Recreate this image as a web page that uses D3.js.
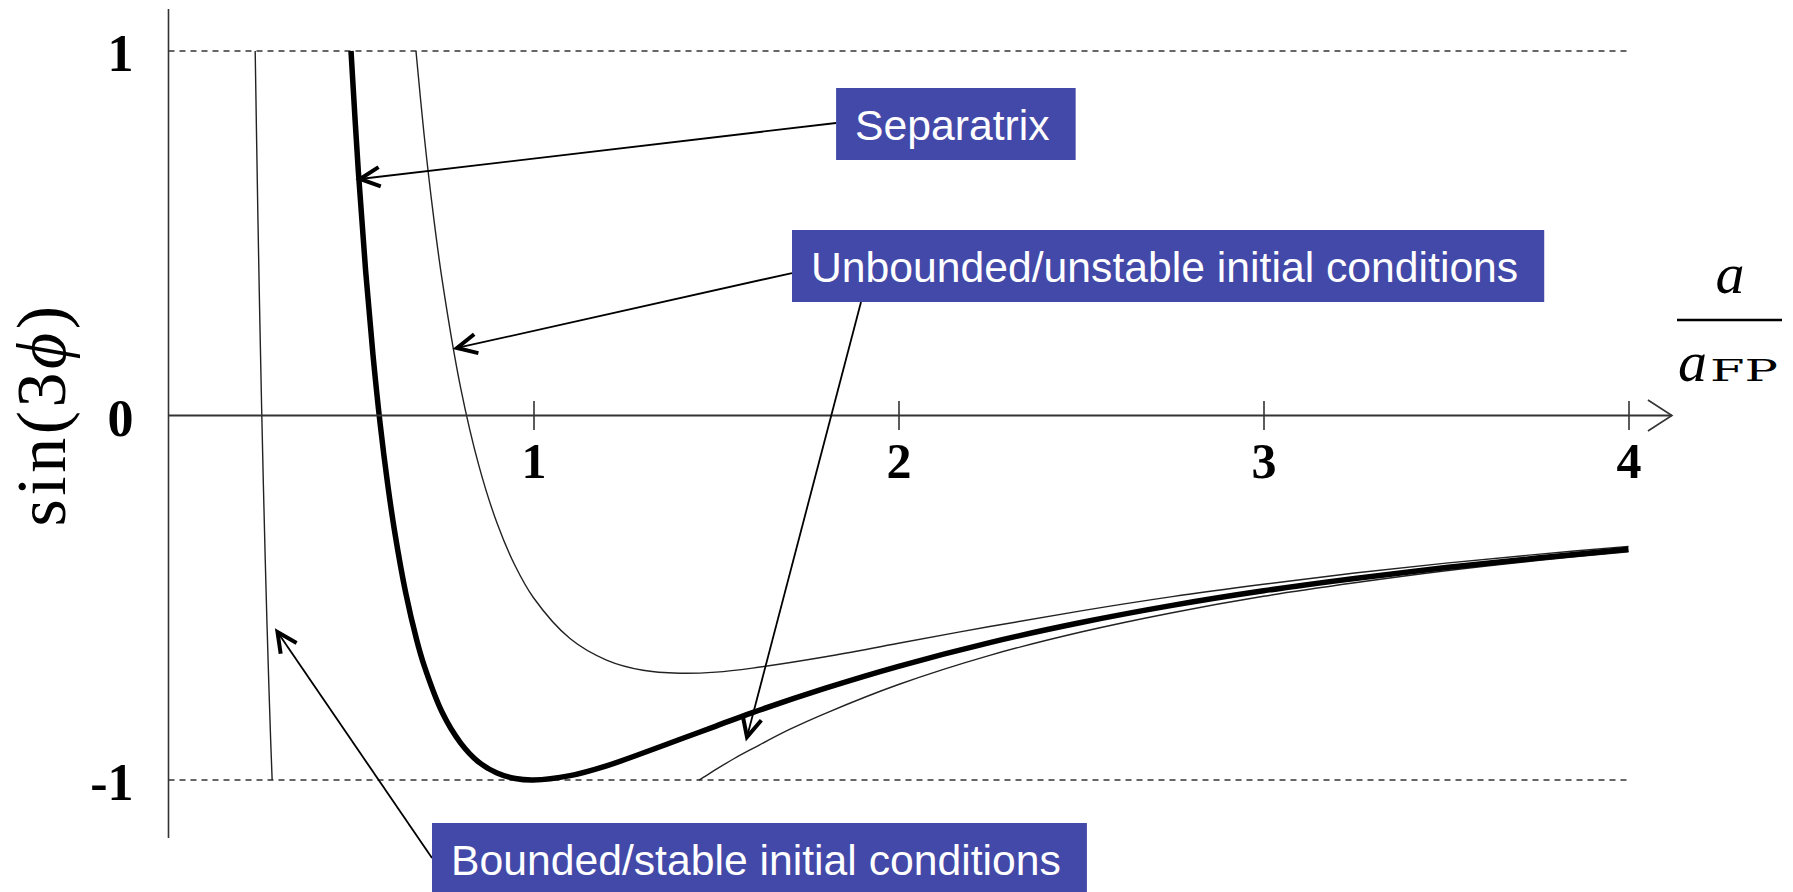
<!DOCTYPE html>
<html>
<head>
<meta charset="utf-8">
<script src="https://cdn.jsdelivr.net/npm/d3@7"></script>
<style>
  html, body { margin: 0; padding: 0; background: #fff; }
  svg { display: block; }
</style>
</head>
<body>
<svg id="chart" width="1793" height="892"></svg>
<script>
// Trajectories in the (a/a_FP, sin 3φ) plane
const separatrix = [
  [0.5, 1], [0.52, 0.671], [0.54, 0.398], [0.56, 0.169], [0.58, -0.024], [0.6, -0.185],
  [0.62, -0.321], [0.65, -0.487], [0.68, -0.616], [0.7, -0.685], [0.75, -0.815], [0.8, -0.898],
  [0.85, -0.951], [0.9, -0.981], [0.95, -0.996], [1, -1], [1.1, -0.988], [1.2, -0.961],
  [1.3, -0.926], [1.4, -0.889], [1.5, -0.852], [1.6, -0.815], [1.8, -0.748], [2, -0.688],
  [2.25, -0.623], [2.5, -0.568], [2.75, -0.521], [3, -0.481], [3.25, -0.447], [3.5, -0.417],
  [3.75, -0.391], [4, -0.367]
];
const unbounded = [
  [0.678, 1], [0.7, 0.773], [0.725, 0.555], [0.75, 0.370], [0.8, 0.078], [0.85, -0.136],
  [0.9, -0.295], [0.95, -0.413], [1, -0.5], [1.1, -0.612], [1.2, -0.671], [1.3, -0.699],
  [1.4, -0.707], [1.5, -0.704], [1.6, -0.693], [1.8, -0.662], [2, -0.625], [2.25, -0.579],
  [2.5, -0.536], [2.75, -0.497], [3, -0.463], [3.25, -0.432], [3.5, -0.405], [3.75, -0.381],
  [4, -0.359]
];
const boundedInner = [
  [0.2375, 1], [0.245, 0.541], [0.25, 0.272], [0.255, 0.028], [0.26, -0.193], [0.265, -0.394],
  [0.27, -0.577], [0.275, -0.742], [0.28, -0.893], [0.284, -1]
];
const boundedOuter = [
  [1.453, -1], [1.46, -0.996], [1.47, -0.990], [1.5, -0.971], [1.55, -0.941], [1.6, -0.914],
  [1.7, -0.862], [1.8, -0.817], [2, -0.738], [2.25, -0.658], [2.5, -0.594], [2.75, -0.541],
  [3, -0.496], [3.25, -0.459], [3.5, -0.426], [3.75, -0.398], [4, -0.374]
];

const xTicks = [1, 2, 3, 4];
const yTicks = [-1, 0, 1];
const yTickLabels = ["-1", "0", "1"];
const bounds = [-1, 1];            // dashed limits of sin(3φ)
const xDomain = [0, 4];
const yDomain = [-1, 1];
const xAxisEnd = 4.119;            // arrow tip of the horizontal axis
const yAxisExtent = [-1.159, 1.115];

// Callout boxes and their arrows, anchored in data coordinates
const annotations = [
  { text: "Separatrix", box: [1.829, 0.8985],
    arrows: [{ from: [1.829, 0.8025], to: [0.5247, 0.6488] }] },
  { text: "Unbounded/unstable initial conditions", box: [1.7082, 0.5089],
    arrows: [{ from: [1.7082, 0.3909], to: [0.7904, 0.1852] },
             { from: [1.8973, 0.3114], to: [1.5849, -0.882] }] },
  { text: "Bounded/stable initial conditions", box: [0.7219, -1.118],
    arrows: [{ from: [0.7219, -1.214], to: [0.2986, -0.594] }] }
];

const svg = d3.select("#chart");
const x = d3.scaleLinear().domain(xDomain).range([168.5, 1628.5]);
const y = d3.scaleLinear().domain(yDomain).range([780, 51]);

const serif = "'Liberation Serif', 'Times New Roman', serif";
const sans = "'Liberation Sans', Arial, sans-serif";

// dashed limits at sin(3φ) = ±1
svg.append("g").selectAll("line").data(bounds).join("line")
  .attr("x1", x(0)).attr("x2", x(4))
  .attr("y1", d => y(d)).attr("y2", d => y(d))
  .attr("stroke", "#666").attr("stroke-width", 2)
  .attr("stroke-dasharray", "6,5");

// trajectories
const line = d3.line().x(d => x(d[0])).y(d => y(d[1])).curve(d3.curveCatmullRom.alpha(0.5));
const thin = [unbounded, boundedInner, boundedOuter];
svg.append("g").selectAll("path").data(thin).join("path")
  .attr("d", line).attr("fill", "none")
  .attr("stroke", "#222").attr("stroke-width", 1.4);
svg.append("path").datum(separatrix)
  .attr("d", line).attr("fill", "none")
  .attr("stroke", "#000").attr("stroke-width", 5.5);

// vertical axis line
svg.append("line")
  .attr("x1", x(0)).attr("x2", x(0))
  .attr("y1", y(yAxisExtent[1])).attr("y2", y(yAxisExtent[0]))
  .attr("stroke", "#333").attr("stroke-width", 1.6);

// horizontal axis with ticks crossing the line
const xAxis = svg.append("g")
  .attr("transform", `translate(0,${y(0)})`)
  .call(d3.axisBottom(x).tickValues(xTicks).tickSizeInner(14.5).tickSizeOuter(0).tickFormat(d3.format("d")));
xAxis.select(".domain").remove();
xAxis.selectAll(".tick line").attr("y1", -14.5).attr("stroke", "#333").attr("stroke-width", 1.6);
xAxis.selectAll(".tick text")
  .attr("y", 62).attr("dy", 0)
  .attr("font-family", serif).attr("font-weight", "bold").attr("font-size", 50).attr("fill", "#000");
xAxis.append("line")
  .attr("x1", x(0)).attr("x2", x(xAxisEnd)).attr("y1", 0).attr("y2", 0)
  .attr("stroke", "#333").attr("stroke-width", 2);
xAxis.append("path")
  .attr("d", `M${x(xAxisEnd) - 24},-15.5 L${x(xAxisEnd)},0 L${x(xAxisEnd) - 24},15.5`)
  .attr("fill", "none").attr("stroke", "#333").attr("stroke-width", 1.6);

// vertical axis labels
const yAxis = svg.append("g")
  .attr("transform", `translate(${x(0)},0)`)
  .call(d3.axisLeft(y).tickValues(yTicks).tickSize(0).tickPadding(35)
    .tickFormat((d, i) => yTickLabels[i]));
yAxis.select(".domain").remove();
yAxis.selectAll(".tick text")
  .attr("dy", "0.38em")
  .attr("font-family", serif).attr("font-weight", "bold").attr("font-size", 52).attr("fill", "#000");

// axis titles
const yTitle = svg.append("text")
  .attr("transform", `translate(65,${y(0) - 1}) rotate(-90)`)
  .attr("text-anchor", "middle")
  .attr("font-family", serif).attr("font-size", 70).attr("letter-spacing", 3.5)
  .attr("fill", "#000");
yTitle.append("tspan").text("sin(3");
yTitle.append("tspan").attr("font-style", "italic").text("ϕ");
yTitle.append("tspan").text(")");

// a / a_FP fraction beside the horizontal axis
const xTitle = svg.append("g");
xTitle.append("text")
  .attr("x", 1730).attr("y", 293).attr("text-anchor", "middle")
  .attr("font-family", serif).attr("font-style", "italic").attr("font-size", 58)
  .text("a");
xTitle.append("line")
  .attr("x1", 1677).attr("x2", 1782).attr("y1", 320).attr("y2", 320)
  .attr("stroke", "#000").attr("stroke-width", 2.5);
xTitle.append("text")
  .attr("x", 1678).attr("y", 381)
  .attr("font-family", serif).attr("font-style", "italic").attr("font-size", 58)
  .text("a");
xTitle.append("text")
  .attr("x", 1710).attr("y", 381)
  .attr("font-family", "'DejaVu Serif', serif").attr("font-size", 30)
  .attr("textLength", 68).attr("lengthAdjust", "spacingAndGlyphs")
  .text("FP");

// callout arrows
function arrowHead(tip, from) {
  const ang = Math.atan2(from[1] - tip[1], from[0] - tip[0]);
  const len = 22, spread = 26 * Math.PI / 180;
  const p1 = [tip[0] + len * Math.cos(ang - spread), tip[1] + len * Math.sin(ang - spread)];
  const p2 = [tip[0] + len * Math.cos(ang + spread), tip[1] + len * Math.sin(ang + spread)];
  return `M${p1[0]},${p1[1]} L${tip[0]},${tip[1]} L${p2[0]},${p2[1]}`;
}
const arrowG = svg.append("g");
annotations.forEach(a => {
  a.arrows.forEach(ar => {
    const f = [x(ar.from[0]), y(ar.from[1])];
    const t = [x(ar.to[0]), y(ar.to[1])];
    arrowG.append("line")
      .attr("x1", f[0]).attr("y1", f[1]).attr("x2", t[0]).attr("y2", t[1])
      .attr("stroke", "#000").attr("stroke-width", 1.8);
    arrowG.append("path")
      .attr("d", arrowHead(t, f))
      .attr("fill", "none").attr("stroke", "#000").attr("stroke-width", 4)
      .attr("stroke-linejoin", "miter");
  });
});

// callout boxes
const boxG = svg.append("g");
annotations.forEach(a => {
  const bx = x(a.box[0]), by = y(a.box[1]);
  const g = boxG.append("g");
  const rect = g.append("rect").attr("x", bx).attr("y", by).attr("height", 72).attr("fill", "#4349A8");
  const t = g.append("text")
    .attr("x", bx + 19).attr("y", by + 52)
    .attr("font-family", sans).attr("font-size", 42.7).attr("fill", "#fff")
    .text(a.text);
  rect.attr("width", t.node().getComputedTextLength() + 45);
});
</script>
</body>
</html>
